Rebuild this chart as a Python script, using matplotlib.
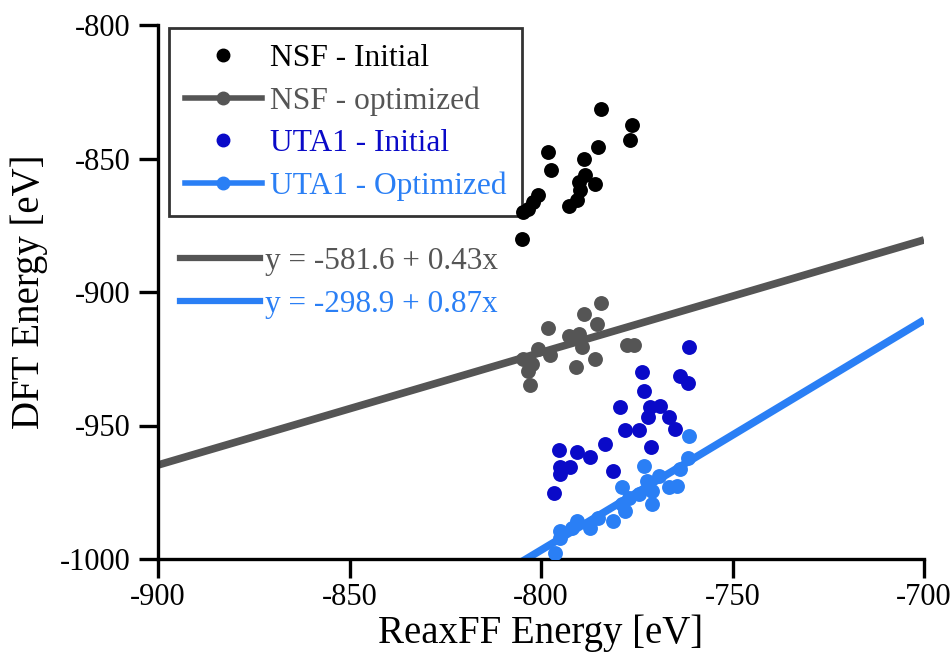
import matplotlib
matplotlib.use("Agg")
import matplotlib.pyplot as plt
from matplotlib.lines import Line2D

plt.rcParams['font.family'] = ['Liberation Serif', 'DejaVu Serif']

# ---- data ----
nsf_init_x = [-784.4, -776.3, -776.7, -798.2, -797.4, -785.2, -788.9, -788.6, -790.2,
              -785.8, -789.8, -790.6, -792.8, -800.7, -802.0, -803.3, -804.6, -805.0]
nsf_init_y = [-831.3, -837.3, -843.2, -847.5, -854.4, -845.7, -850.3, -856.3, -858.8,
              -859.4, -861.9, -865.7, -867.9, -863.8, -866.3, -868.8, -870.0, -880.0]

nsf_opt_x = [-784.4, -788.9, -798.2, -785.4, -792.8, -790.2, -789.3, -800.7, -797.6,
             -804.6, -802.4, -785.8, -790.8, -802.8, -777.5, -775.8, -803.3]
nsf_opt_y = [-904.2, -908.4, -913.4, -911.9, -916.3, -915.7, -920.7, -921.3, -923.5,
             -925.1, -927.0, -925.1, -928.2, -934.7, -920.0, -920.0, -929.5]

uta_init_x = [-761.4, -773.5, -763.6, -761.6, -773.0, -779.3, -771.6, -769.0, -772.1,
              -766.7, -764.9, -778.0, -774.5, -783.4, -771.2, -795.2, -790.6, -787.1,
              -781.1, -795.0, -792.4, -795.0, -796.7]
uta_init_y = [-920.5, -930.1, -931.3, -934.2, -937.0, -943.0, -943.0, -942.6, -947.0,
              -946.7, -951.3, -951.7, -951.7, -957.0, -957.9, -959.1, -959.8, -961.7,
              -967.0, -965.5, -965.5, -968.0, -975.1]

uta_opt_x = [-761.4, -761.6, -763.6, -764.5, -766.7, -773.2, -769.3, -772.3, -771.0,
             -771.0, -774.5, -778.9, -777.1, -778.9, -778.0, -781.1, -785.0, -787.1,
             -790.6, -791.9, -795.0, -795.0, -796.3]
uta_opt_y = [-953.8, -962.0, -966.3, -972.6, -973.2, -965.1, -968.9, -970.7, -974.5,
             -979.5, -975.7, -973.2, -977.0, -979.5, -982.0, -985.7, -984.5, -988.3,
             -985.7, -988.3, -989.5, -992.0, -997.6]

# fitted lines as drawn in the picture (end points)
nsf_fit_x = [-900.0, -700.0]
nsf_fit_y = [-964.8, -880.5]
uta_fit_x = [-810.0, -700.0]
uta_fit_y = [-1005.3, -910.5]

x_ticks = [-900, -850, -800, -750, -700]
y_ticks = [-1000, -950, -900, -850, -800]

labels = ["NSF - Initial", "NSF - optimized", "UTA1 - Initial", "UTA1 - Optimized"]
eq_labels = ["y = -581.6 + 0.43x", "y = -298.9 + 0.87x"]

# ---- style ----
c_black = "#000000"
c_gray = "#555555"
c_blue = "#0a0ac8"
c_light = "#2a7ff5"

W, H = 951, 653
fig = plt.figure(figsize=(W/100, H/100), dpi=100)
ax = fig.add_axes([158/W, 1 - 559/H, (924-158)/W, (559-25)/H])

ax.plot(nsf_fit_x, nsf_fit_y, color=c_gray, lw=5.5, solid_capstyle='butt', zorder=2)
ax.plot(uta_fit_x, uta_fit_y, color=c_light, lw=5.5, solid_capstyle='butt', zorder=2)

s = 115
ax.scatter(nsf_init_x, nsf_init_y, s=s, color=c_black, lw=0, zorder=3)
ax.scatter(nsf_opt_x, nsf_opt_y, s=s, color=c_gray, lw=0, zorder=3)
ax.scatter(uta_init_x, uta_init_y, s=s, color=c_blue, lw=0, zorder=3)
ax.scatter(uta_opt_x, uta_opt_y, s=s, color=c_light, lw=0, zorder=3)

ax.set_xlim(-900, -700)
ax.set_ylim(-1000, -800)
ax.set_xticks(x_ticks)
ax.set_yticks(y_ticks)
ax.set_xticklabels([str(v) for v in x_ticks])
ax.set_yticklabels([str(v) for v in y_ticks])
for sp in ['top', 'right']:
    ax.spines[sp].set_visible(False)
for sp in ['left', 'bottom']:
    ax.spines[sp].set_linewidth(2.4)
ax.tick_params(direction='out', length=14, width=2.4, labelsize=22, pad=3)
ax.tick_params(axis='y', pad=6)
ax.set_xlabel("ReaxFF Energy [eV]", fontsize=28, labelpad=2)
ax.set_ylabel("DFT Energy [eV]", fontsize=28, labelpad=8)

fs = 22.7
handles = [
    Line2D([], [], ls='none', marker='o', ms=9, color=c_black),
    Line2D([], [], ls='-', lw=4, marker='o', ms=9, color=c_gray),
    Line2D([], [], ls='none', marker='o', ms=9, color=c_blue),
    Line2D([], [], ls='-', lw=4, marker='o', ms=9, color=c_light),
]
leg = ax.legend(handles, labels, loc='upper left',
                bbox_to_anchor=(169/W, 1 - 28/H), bbox_transform=fig.transFigure,
                fontsize=fs, frameon=True, fancybox=False, edgecolor='black',
                handlelength=2.45, handletextpad=0.25, labelspacing=0.42,
                borderpad=0.5, borderaxespad=0)
leg.get_frame().set_linewidth(2)
leg.set_zorder(2.5)
for t, c in zip(leg.get_texts(), [c_black, c_gray, c_blue, c_light]):
    t.set_color(c)
ax.add_artist(leg)

fs2 = 22.5
eq_handles = [Line2D([], [], lw=4.5, color=c_gray), Line2D([], [], lw=4.5, color=c_light)]
leg2 = ax.legend(eq_handles, eq_labels, loc='upper left',
                 bbox_to_anchor=(174/W, 1 - 241/H), bbox_transform=fig.transFigure,
                 fontsize=fs2, frameon=False, handlelength=2.56, handletextpad=0.15,
                 labelspacing=0.43, borderpad=0.2, borderaxespad=0)
for t, c in zip(leg2.get_texts(), [c_gray, c_light]):
    t.set_color(c)

fig.savefig("out.png", dpi=100)
